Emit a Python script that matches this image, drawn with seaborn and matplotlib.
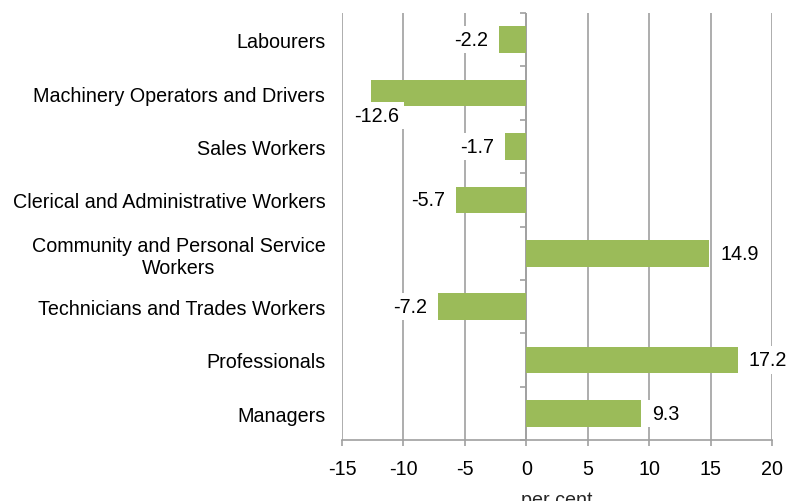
import matplotlib
matplotlib.use("Agg")
import matplotlib.pyplot as plt
import seaborn as sns
import pandas as pd

sns.set_style("white")
plt.rcParams["font.family"] = ["Liberation Sans", "DejaVu Sans"]
plt.rcParams["text.color"] = "black"
plt.rcParams["xtick.labelcolor"] = "black"
plt.rcParams["ytick.labelcolor"] = "black"

occupations = [
    "Labourers",
    "Machinery Operators and Drivers",
    "Sales Workers",
    "Clerical and Administrative Workers",
    "Community and Personal Service\nWorkers",
    "Technicians and Trades Workers",
    "Professionals",
    "Managers",
]
change = [-2.2, -12.6, -1.7, -5.7, 14.9, -7.2, 17.2, 9.3]
x_ticks = [-15, -10, -5, 0, 5, 10, 15, 20]

df = pd.DataFrame({"occupation": occupations, "change": change})

fs = 14.2
fig = plt.figure(figsize=(7.9, 5.02), dpi=100)
ax = fig.add_axes([0.4329, 0.1215, 0.5443, 0.8505])

sns.barplot(data=df, x="change", y="occupation", color="#9BBB59",
            width=0.5, saturation=1, linewidth=0, ax=ax, zorder=3)

ax.set_xlim(-15, 20)
ax.set_xticks(x_ticks)
ax.set_xticklabels([str(t) for t in x_ticks])
ax.xaxis.grid(True, color="#a0a0a0", linewidth=1.2, zorder=0)
ax.yaxis.grid(False)
for side in ["top", "right", "left"]:
    ax.spines[side].set_visible(False)
ax.spines["bottom"].set_color("#a0a0a0")
ax.spines["bottom"].set_linewidth(1.2)
ax.tick_params(axis="x", direction="out", length=4, width=1.2, color="#a0a0a0",
               labelsize=fs, pad=10, bottom=True)
ax.tick_params(axis="y", length=0, labelsize=fs, pad=12)
for lbl in ax.get_yticklabels():
    lbl.set_multialignment("center")

# zero line with small category ticks
ax.axvline(0, color="#a0a0a0", linewidth=1.2, zorder=2)
sec = ax.secondary_yaxis(15 / 35)
sec.set_yticks([i + 0.5 for i in range(-1, len(occupations))])
sec.set_yticklabels([])
sec.spines["left"].set_visible(False)
sec.tick_params(length=4, width=1.2, color="#a0a0a0", direction="out")

ax.set_xlabel("per cent", fontsize=fs, labelpad=8)
ax.set_ylabel("")

box = dict(facecolor="white", edgecolor="none", pad=3)
for i, v in enumerate(change):
    if v < -10:
        ax.annotate(f"{v:.1f}", (v, i), xytext=(4, -16), textcoords="offset points",
                    ha="center", va="center", fontsize=fs, bbox=box, zorder=4)
    elif v < 0:
        ax.annotate(f"{v:.1f}", (v, i), xytext=(-8, 0), textcoords="offset points",
                    ha="right", va="center", fontsize=fs, bbox=box, zorder=4)
    else:
        ax.annotate(f"{v:.1f}", (v, i), xytext=(8, 0), textcoords="offset points",
                    ha="left", va="center", fontsize=fs, bbox=box, zorder=4)

fig.savefig("out.png", dpi=100)
